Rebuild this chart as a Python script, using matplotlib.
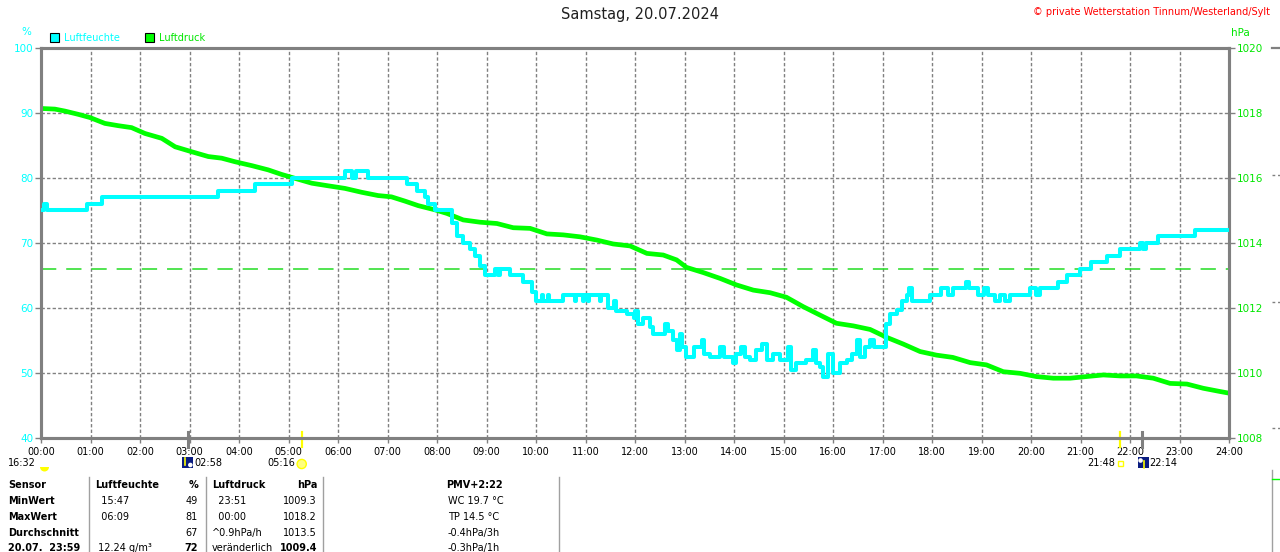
import matplotlib
matplotlib.use("Agg")
import matplotlib.pyplot as plt
from matplotlib.patches import Rectangle, Wedge, Circle
from matplotlib.lines import Line2D
import matplotlib.transforms as mtrans

# ---------------- data ----------------
title = "Samstag, 20.07.2024"
copyright_txt = "\u00a9 private Wetterstation Tinnum/Westerland/Sylt"
hour_labels = ["%02d:00" % h for h in range(25)]
hum_ticks = [40, 50, 60, 70, 80, 90, 100]
pres_ticks = [1008, 1010, 1012, 1014, 1016, 1018, 1020]

# humidity (%), step-wise values, time in hours
hum_t = [0.00, 0.06, 0.12, 0.93, 1.24, 3.58, 4.32, 5.07, 6.14, 6.28, 6.36, 6.61,
         7.40, 7.60, 7.76, 7.82, 7.96, 8.30, 8.40, 8.53, 8.67, 8.77, 8.87, 8.97,
         9.17, 9.24, 9.27, 9.48, 9.74, 9.91, 10.01, 10.12, 10.14, 10.24, 10.26,
         10.55, 10.79, 10.81, 10.95, 10.97, 11.05, 11.07, 11.29, 11.31, 11.46,
         11.58, 11.62, 11.66, 11.83, 11.97, 12.00, 12.07, 12.17, 12.30, 12.37,
         12.60, 12.66, 12.77, 12.84, 12.91, 12.95, 13.04, 13.20, 13.35, 13.40,
         13.52, 13.72, 13.80, 13.98, 14.05, 14.15, 14.22, 14.32, 14.45, 14.56,
         14.66, 14.79, 14.93, 15.09, 15.15, 15.25, 15.45, 15.60, 15.66, 15.74,
         15.80, 15.90, 16.00, 16.14, 16.28, 16.38, 16.48, 16.55, 16.65, 16.75,
         16.82, 17.05, 17.08, 17.15, 17.29, 17.39, 17.49, 17.53, 17.59, 17.89,
         17.96, 18.06, 18.18, 18.32, 18.42, 18.69, 18.75, 18.92, 19.06, 19.14,
         19.27, 19.37, 19.47, 19.58, 19.98, 20.11, 20.18, 20.55, 20.72, 20.99,
         21.22, 21.53, 21.80, 22.20, 22.27, 22.32, 22.57, 23.31, 24.00]
hum_v = [75, 76, 75, 76, 77, 78, 79, 80, 81, 80, 81, 80,
         79, 78, 77, 76, 75, 73, 71, 70, 69, 68, 66.5, 65,
         66, 65, 66, 65, 64, 62.5, 61, 62, 61, 62, 61,
         62, 61, 62, 61, 62, 61, 62, 61, 62, 60,
         61, 59.5, 59.5, 59, 58.5, 59.5, 57.5, 58.5, 57, 56,
         57.5, 56.5, 55, 53.5, 56, 54, 52.5, 54, 55, 53,
         52.5, 54, 52.5, 51.5, 53, 54, 52.5, 52, 53.5, 54.5,
         52, 53, 52, 54, 50.5, 51.5, 52, 53.5, 51.5, 51,
         49.4, 53, 50, 51.5, 52, 53, 55, 52.5, 54, 55,
         54, 54, 57.5, 59, 59.7, 61, 62, 63, 61, 61,
         62, 62, 63, 62, 63, 64, 63, 62, 63, 62,
         61, 62, 61, 62, 63, 62, 63, 64, 65, 66,
         67, 68, 69, 70, 69, 70, 71, 72, 72]

# air pressure (hPa), time in hours
pres_t = [0.00, 0.28, 0.48, 0.75, 0.99, 1.29, 1.56, 1.83, 2.10, 2.44, 2.71, 3.04,
          3.38, 3.65, 3.92, 4.26, 4.59, 4.86, 5.13, 5.47, 5.80, 6.14, 6.48, 6.81,
          7.08, 7.35, 7.62, 7.96, 8.20, 8.53, 8.87, 9.21, 9.54, 9.88, 10.22, 10.55,
          10.89, 11.23, 11.56, 11.90, 12.24, 12.57, 12.84, 13.04, 13.38, 13.72,
          14.05, 14.39, 14.73, 15.06, 15.40, 15.74, 16.07, 16.41, 16.75, 17.08,
          17.42, 17.76, 18.09, 18.42, 18.77, 19.10, 19.44, 19.78, 20.11, 20.45,
          20.79, 21.12, 21.46, 21.80, 22.13, 22.47, 22.81, 23.15, 23.48, 23.82, 24.00]
pres_v = [1018.14, 1018.12, 1018.06, 1017.96, 1017.86, 1017.68, 1017.61, 1017.55,
          1017.37, 1017.22, 1016.96, 1016.81, 1016.66, 1016.61, 1016.50, 1016.38,
          1016.25, 1016.11, 1015.99, 1015.84, 1015.76, 1015.68, 1015.56, 1015.46,
          1015.42, 1015.29, 1015.15, 1015.02, 1014.91, 1014.71, 1014.64, 1014.60,
          1014.47, 1014.45, 1014.28, 1014.25, 1014.19, 1014.09, 1013.97, 1013.91,
          1013.68, 1013.63, 1013.48, 1013.25, 1013.09, 1012.91, 1012.71, 1012.55,
          1012.47, 1012.33, 1012.04, 1011.78, 1011.53, 1011.45, 1011.34, 1011.10,
          1010.89, 1010.66, 1010.55, 1010.48, 1010.32, 1010.25, 1010.04, 1009.99,
          1009.89, 1009.84, 1009.84, 1009.89, 1009.94, 1009.91, 1009.91, 1009.84,
          1009.68, 1009.66, 1009.53, 1009.43, 1009.38]
pres_avg_line = 1013.2

# sun / moon events (hours) and labels
sunrise_t, sunset_t = 5 + 16 / 60, 21 + 48 / 60
moonset_t, moonrise_t = 2 + 58 / 60, 22 + 14 / 60
prev_moon_label = "16:32"

# table
table_rows = [
    ["Sensor", "Luftfeuchte", "%", "Luftdruck", "hPa", "PMV+2:22"],
    ["MinWert", "  15:47", "49", "  23:51", "1009.3", "WC 19.7 \u00b0C"],
    ["MaxWert", "  06:09", "81", "  00:00", "1018.2", "TP 14.5 \u00b0C"],
    ["Durchschnitt", "", "67", "^0.9hPa/h", "1013.5", "-0.4hPa/3h"],
    ["20.07.  23:59", " 12.24 g/m\u00b3", "72", "ver\u00e4nderlich", "1009.4", "-0.3hPa/1h"],
]

# ---------------- styling ----------------
W, H = 1280, 552
CYAN = "#00ffff"
GREEN = "#00ff00"
GREENTXT = "#00e600"
GRAY = "#808080"
plt.rcParams["font.family"] = ["DejaVu Sans"]

fig = plt.figure(figsize=(W / 100, H / 100), dpi=100)
fig.patch.set_facecolor("white")

L, R, T, B = 41, 1229, 48, 438
ax = fig.add_axes([L / W, 1 - B / H, (R - L) / W, (B - T) / H])  # pressure axes (grid)
ax.set_xlim(0, 24)
ax.set_ylim(1008, 1020)
ax.yaxis.tick_right()
axh = ax.twinx()  # humidity axes on top
axh.yaxis.tick_left()
axh.set_ylim(40, 100)
axh.set_xlim(0, 24)

for a in (ax, axh):
    for s in a.spines.values():
        s.set_color(GRAY)
        s.set_linewidth(2.2)

ax.set_xticks(range(25))
ax.set_xticklabels(hour_labels, fontsize=7, color="black")
ax.tick_params(axis="x", direction="out", length=3.5, width=1, color=GRAY, pad=3)
ax.set_yticks(pres_ticks)
ax.set_yticklabels([str(v) for v in pres_ticks], fontsize=7.5, color=GREENTXT)
ax.tick_params(axis="y", direction="out", length=4, width=1, color=GRAY, pad=1.5,
               right=True, left=False, labelright=True, labelleft=False)
axh.set_yticks(hum_ticks)
axh.set_yticklabels([str(v) for v in hum_ticks], fontsize=7.5, color=CYAN)
axh.tick_params(axis="y", direction="out", length=4, width=1, color=GRAY, pad=1.5,
                left=True, right=False, labelleft=True, labelright=False)
axh.tick_params(axis="x", bottom=False, labelbottom=False)

ax.grid(True, color=GRAY, linestyle=(0, (2.4, 1.6)), linewidth=1)
ax.set_axisbelow(True)

ax.axhline(pres_avg_line, color="#22dd22", linewidth=1.1, dashes=(10, 6.5), zorder=2)
ax.plot(pres_t, pres_v, color=GREEN, linewidth=3.4, solid_joinstyle="miter", zorder=3)
axh.plot(hum_t, hum_v, color=CYAN, linewidth=2.9, drawstyle="steps-post", zorder=3)

# sun / moon ticks on x axis
bt = mtrans.blended_transform_factory(ax.transData, ax.transAxes)
for t, c, lw in [(sunrise_t, "#ffff00", 1.6), (sunset_t, "#ffff00", 1.6),
                 (moonset_t, GRAY, 2.2), (moonrise_t, GRAY, 2.2)]:
    ax.add_line(Line2D([t, t], [0.015, -0.022], transform=bt, color=c, lw=lw,
                       clip_on=False, zorder=5))

# ---------------- overlay in pixel coordinates ----------------
ov = fig.add_axes([0, 0, 1, 1])
ov.set_xlim(0, W)
ov.set_ylim(H, 0)
ov.axis("off")
ov.patch.set_visible(False)


def hx(t):
    return L + t * (R - L) / 24.0


ov.text(640, 15, title, ha="center", va="center", fontsize=10.5, color="#202020")
ov.text(1270, 12, copyright_txt, ha="right", va="center", fontsize=7, color="#ff0000")
ov.text(26, 32, "%", ha="center", va="center", fontsize=7.5, color=CYAN)
ov.text(1240, 33, "hPa", ha="center", va="center", fontsize=7.5, color=GREENTXT)

# legend
ov.add_patch(Rectangle((50, 33), 9, 9, facecolor=CYAN, edgecolor="black", lw=0.8))
ov.text(64, 38, "Luftfeuchte", ha="left", va="center", fontsize=7, color=CYAN)
ov.add_patch(Rectangle((145, 33), 9, 9, facecolor=GREEN, edgecolor="black", lw=0.8))
ov.text(159, 38, "Luftdruck", ha="left", va="center", fontsize=7, color=GREENTXT)

# event labels below the axis
LY = 463
ov.text(8, LY, prev_moon_label, ha="left", va="center", fontsize=7, color="black")
ov.add_patch(Wedge((44.5, 467), 4.5, 0, 180, facecolor="#ffff00", edgecolor="none"))
xm = hx(moonset_t)
ov.add_patch(Rectangle((xm - 6, 457), 11, 11, facecolor="#0a1c80", edgecolor="none"))
ov.add_patch(Circle((xm + 2.5, 465), 2.3, facecolor="white", edgecolor="none"))
ov.add_line(Line2D([xm - 2.5, xm - 2.5], [458, 465], color="#ffff00", lw=1.2))
ov.text(xm + 7, LY, "%02d:%02d" % (int(moonset_t), round(moonset_t % 1 * 60)),
        ha="left", va="center", fontsize=7, color="black")
xs = hx(sunrise_t)
ov.add_patch(Circle((xs, 464), 4.6, facecolor="#ffff80", edgecolor="#ffff00", lw=1))
ov.text(xs - 6, LY, "%02d:%02d" % (int(sunrise_t), round(sunrise_t % 1 * 60)),
        ha="right", va="center", fontsize=7, color="black")
xe = hx(sunset_t)
ov.add_patch(Rectangle((xe - 2, 461), 5, 5, facecolor="none", edgecolor="#ffff00", lw=1))
ov.text(xe - 5, LY, "%02d:%02d" % (int(sunset_t), round(sunset_t % 1 * 60)),
        ha="right", va="center", fontsize=7, color="black")
xr = hx(moonrise_t)
ov.add_patch(Rectangle((xr - 4, 457), 11, 11, facecolor="#0a1c80", edgecolor="none"))
ov.add_patch(Circle((xr - 1, 460.5), 2.3, facecolor="white", edgecolor="none"))
ov.add_line(Line2D([xr + 2, xr + 2], [461, 468], color="#ffff00", lw=1.2))
ov.text(xr + 8, LY, "%02d:%02d" % (int(moonrise_t), round(moonrise_t % 1 * 60)),
        ha="left", va="center", fontsize=7, color="black")

# table
row_y = [485, 501, 517, 533, 548]
for x in (89, 206, 323, 559):
    ov.add_line(Line2D([x, x], [477, H], color="#a0a0a0", lw=1))
for i, row in enumerate(table_rows):
    y = row_y[i]
    bold_all = i == 0
    ov.text(8, y, row[0], ha="left", va="center", fontsize=7, fontweight="bold")
    ov.text(95, y, row[1], ha="left", va="center", fontsize=7,
            fontweight="bold" if bold_all else "normal")
    ov.text(198, y, row[2], ha="right", va="center", fontsize=7,
            fontweight="bold" if (bold_all or i == 4) else "normal")
    ov.text(212, y, row[3], ha="left", va="center", fontsize=7,
            fontweight="bold" if bold_all else "normal")
    ov.text(317, y, row[4], ha="right", va="center", fontsize=7,
            fontweight="bold" if (bold_all or i == 4) else "normal")
    if i == 0:
        ov.text(474, y, row[5], ha="center", va="center", fontsize=7, fontweight="bold")
    else:
        ov.text(448, y, row[5], ha="left", va="center", fontsize=7)

# fragments at right edge
ov.add_line(Line2D([1272, 1280], [48, 48], color=GRAY, lw=1.6))
for y in (175, 302, 428):
    ov.add_line(Line2D([1272, 1280], [y, y], color=GRAY, lw=1, dashes=(2, 2)))
ov.add_line(Line2D([1272, 1272], [470, H], color="#a0a0a0", lw=1))
ov.add_line(Line2D([1272, 1279], [479, 479], color=GREEN, lw=1))

fig.savefig("out.png", dpi=100, facecolor="white")
